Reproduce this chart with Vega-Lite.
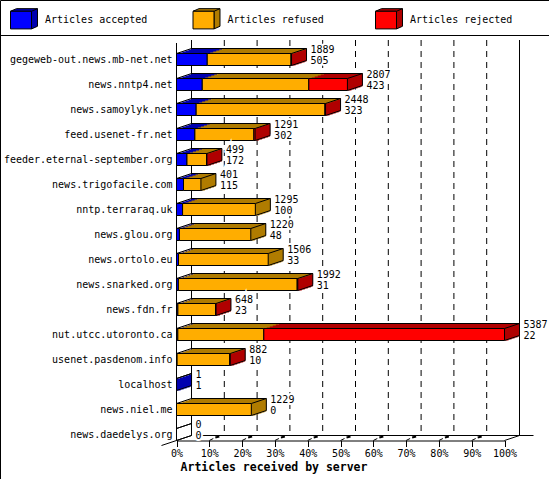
{
  "$schema": "https://vega.github.io/schema/vega-lite/v6.json",
  "width": 549,
  "height": 479,
  "padding": 0,
  "autosize": "none",
  "background": "white",
  "view": {"stroke": "black", "strokeWidth": 1, "fill": "white"},
  "config": {
    "font": "DejaVu Sans Mono",
    "text": {"font": "DejaVu Sans Mono", "fontSize": 10, "color": "black"}
  },
  "datasets": {
    "segments": [
      {"server": "gegeweb-out.news.mb-net.net", "series": "Articles accepted", "rank": 1, "value": 505},
      {"server": "gegeweb-out.news.mb-net.net", "series": "Articles refused", "rank": 2, "value": 1376},
      {"server": "gegeweb-out.news.mb-net.net", "series": "Articles rejected", "rank": 3, "value": 8},
      {"server": "news.nntp4.net", "series": "Articles accepted", "rank": 1, "value": 423},
      {"server": "news.nntp4.net", "series": "Articles refused", "rank": 2, "value": 1750},
      {"server": "news.nntp4.net", "series": "Articles rejected", "rank": 3, "value": 634},
      {"server": "news.samoylyk.net", "series": "Articles accepted", "rank": 1, "value": 323},
      {"server": "news.samoylyk.net", "series": "Articles refused", "rank": 2, "value": 2115},
      {"server": "news.samoylyk.net", "series": "Articles rejected", "rank": 3, "value": 10},
      {"server": "feed.usenet-fr.net", "series": "Articles accepted", "rank": 1, "value": 302},
      {"server": "feed.usenet-fr.net", "series": "Articles refused", "rank": 2, "value": 969},
      {"server": "feed.usenet-fr.net", "series": "Articles rejected", "rank": 3, "value": 20},
      {"server": "feeder.eternal-september.org", "series": "Articles accepted", "rank": 1, "value": 172},
      {"server": "feeder.eternal-september.org", "series": "Articles refused", "rank": 2, "value": 321},
      {"server": "feeder.eternal-september.org", "series": "Articles rejected", "rank": 3, "value": 6},
      {"server": "news.trigofacile.com", "series": "Articles accepted", "rank": 1, "value": 115},
      {"server": "news.trigofacile.com", "series": "Articles refused", "rank": 2, "value": 286},
      {"server": "nntp.terraraq.uk", "series": "Articles accepted", "rank": 1, "value": 100},
      {"server": "nntp.terraraq.uk", "series": "Articles refused", "rank": 2, "value": 1195},
      {"server": "news.glou.org", "series": "Articles accepted", "rank": 1, "value": 48},
      {"server": "news.glou.org", "series": "Articles refused", "rank": 2, "value": 1172},
      {"server": "news.ortolo.eu", "series": "Articles accepted", "rank": 1, "value": 33},
      {"server": "news.ortolo.eu", "series": "Articles refused", "rank": 2, "value": 1473},
      {"server": "news.snarked.org", "series": "Articles accepted", "rank": 1, "value": 31},
      {"server": "news.snarked.org", "series": "Articles refused", "rank": 2, "value": 1951},
      {"server": "news.snarked.org", "series": "Articles rejected", "rank": 3, "value": 10},
      {"server": "news.fdn.fr", "series": "Articles accepted", "rank": 1, "value": 23},
      {"server": "news.fdn.fr", "series": "Articles refused", "rank": 2, "value": 619},
      {"server": "news.fdn.fr", "series": "Articles rejected", "rank": 3, "value": 6},
      {"server": "nut.utcc.utoronto.ca", "series": "Articles accepted", "rank": 1, "value": 22},
      {"server": "nut.utcc.utoronto.ca", "series": "Articles refused", "rank": 2, "value": 1412},
      {"server": "nut.utcc.utoronto.ca", "series": "Articles rejected", "rank": 3, "value": 3953},
      {"server": "usenet.pasdenom.info", "series": "Articles accepted", "rank": 1, "value": 10},
      {"server": "usenet.pasdenom.info", "series": "Articles refused", "rank": 2, "value": 864},
      {"server": "usenet.pasdenom.info", "series": "Articles rejected", "rank": 3, "value": 8},
      {"server": "localhost", "series": "Articles accepted", "rank": 1, "value": 1},
      {"server": "news.niel.me", "series": "Articles refused", "rank": 2, "value": 1229}
    ],
    "servers": [
      {"server": "gegeweb-out.news.mb-net.net", "start": 0, "total": 1889, "accepted": 505, "last": "Articles rejected"},
      {"server": "news.nntp4.net", "start": 0, "total": 2807, "accepted": 423, "last": "Articles rejected"},
      {"server": "news.samoylyk.net", "start": 0, "total": 2448, "accepted": 323, "last": "Articles rejected"},
      {"server": "feed.usenet-fr.net", "start": 0, "total": 1291, "accepted": 302, "last": "Articles rejected"},
      {"server": "feeder.eternal-september.org", "start": 0, "total": 499, "accepted": 172, "last": "Articles rejected"},
      {"server": "news.trigofacile.com", "start": 0, "total": 401, "accepted": 115, "last": "Articles refused"},
      {"server": "nntp.terraraq.uk", "start": 0, "total": 1295, "accepted": 100, "last": "Articles refused"},
      {"server": "news.glou.org", "start": 0, "total": 1220, "accepted": 48, "last": "Articles refused"},
      {"server": "news.ortolo.eu", "start": 0, "total": 1506, "accepted": 33, "last": "Articles refused"},
      {"server": "news.snarked.org", "start": 0, "total": 1992, "accepted": 31, "last": "Articles rejected"},
      {"server": "news.fdn.fr", "start": 0, "total": 648, "accepted": 23, "last": "Articles rejected"},
      {"server": "nut.utcc.utoronto.ca", "start": 0, "total": 5387, "accepted": 22, "last": "Articles rejected"},
      {"server": "usenet.pasdenom.info", "start": 0, "total": 882, "accepted": 10, "last": "Articles rejected"},
      {"server": "localhost", "start": 0, "total": 1, "accepted": 1, "last": "Articles accepted"},
      {"server": "news.niel.me", "start": 0, "total": 1229, "accepted": 0, "last": "Articles refused"},
      {"server": "news.daedelys.org", "start": 0, "total": 0, "accepted": 0, "last": "none"}
    ],
    "ticks": [
      {"count": 538.7, "first": "gegeweb-out.news.mb-net.net", "lastRow": "news.daedelys.org"},
      {"count": 1077.4, "first": "gegeweb-out.news.mb-net.net", "lastRow": "news.daedelys.org"},
      {"count": 1616.1, "first": "gegeweb-out.news.mb-net.net", "lastRow": "news.daedelys.org"},
      {"count": 2154.8, "first": "gegeweb-out.news.mb-net.net", "lastRow": "news.daedelys.org"},
      {"count": 2693.5, "first": "gegeweb-out.news.mb-net.net", "lastRow": "news.daedelys.org"},
      {"count": 3232.2, "first": "gegeweb-out.news.mb-net.net", "lastRow": "news.daedelys.org"},
      {"count": 3770.9, "first": "gegeweb-out.news.mb-net.net", "lastRow": "news.daedelys.org"},
      {"count": 4309.6, "first": "gegeweb-out.news.mb-net.net", "lastRow": "news.daedelys.org"},
      {"count": 4848.3, "first": "gegeweb-out.news.mb-net.net", "lastRow": "news.daedelys.org"}
    ],
    "walls": [
      {"count": 0, "end": 5387, "first": "gegeweb-out.news.mb-net.net", "lastRow": "news.daedelys.org"},
      {"count": 5387, "end": 5387, "first": "gegeweb-out.news.mb-net.net", "lastRow": "news.daedelys.org"}
    ]
  },
  "encoding": {
    "y": {
      "field": "server",
      "type": "nominal",
      "scale": {
        "domain": ["gegeweb-out.news.mb-net.net", "news.nntp4.net", "news.samoylyk.net", "feed.usenet-fr.net", "feeder.eternal-september.org", "news.trigofacile.com", "nntp.terraraq.uk", "news.glou.org", "news.ortolo.eu", "news.snarked.org", "news.fdn.fr", "nut.utcc.utoronto.ca", "usenet.pasdenom.info", "localhost", "news.niel.me", "news.daedelys.org"],
        "range": [47, 447],
        "paddingInner": 0.52,
        "paddingOuter": 0.26
      },
      "axis": {
        "orient": "left",
        "offset": -172,
        "domain": false,
        "ticks": false,
        "grid": false,
        "title": null,
        "labelPadding": 0,
        "labelFont": "DejaVu Sans Mono",
        "labelFontSize": 10,
        "labelColor": "black",
        "labelLimit": 200,
        "labelOverlap": false
      }
    }
  },
  "layer": [
    {
      "data": {"name": "ticks"},
      "mark": {"type": "rule", "color": "black", "strokeWidth": 1, "strokeDash": [6, 5], "xOffset": 15, "x2Offset": 15, "yOffset": -19.5, "y2Offset": 1},
      "encoding": {
        "x": {
          "field": "count",
          "type": "quantitative",
          "scale": {"domain": [0, 5387], "range": [176.5, 504.5], "nice": false, "zero": false},
          "axis": {
            "orient": "bottom",
            "offset": -38.5,
            "values": [0, 538.7, 1077.4, 1616.1, 2154.8, 2693.5, 3232.2, 3770.9, 4309.6, 4848.3, 5387],
            "labelExpr": "round(datum.value / 5387 * 100) + '%'",
            "grid": false,
            "domainColor": "black",
            "tickColor": "black",
            "tickSize": 6,
            "labelColor": "black",
            "labelFont": "DejaVu Sans Mono",
            "labelFontSize": 10,
            "labelPadding": 2,
            "labelFlush": false,
            "labelOverlap": false,
            "title": "Articles received by server",
            "titleFont": "DejaVu Sans Mono",
            "titleFontSize": 11.5,
            "titleFontWeight": "bold",
            "titleColor": "black",
            "titleX": 273.5,
            "titleY": 21,
            "titleAlign": "center"
          }
        },
        "x2": {"field": "count"},
        "y": {"field": "first", "type": "nominal", "axis": {"title": null}},
        "y2": {"field": "lastRow"}
      }
    },
    {
      "data": {"name": "walls"},
      "mark": {"type": "rule", "color": "black", "strokeWidth": 1, "xOffset": 15, "x2Offset": 15, "yOffset": -19.5, "y2Offset": 1},
      "encoding": {
        "x": {"field": "count", "type": "quantitative"},
        "x2": {"field": "count"},
        "y": {"field": "first", "type": "nominal", "axis": {"title": null}},
        "y2": {"field": "lastRow"}
      }
    },
    {
      "data": {"name": "walls"},
      "transform": [{"filter": "datum.count == 0"}],
      "mark": {"type": "rule", "color": "black", "strokeWidth": 1, "yOffset": -16.5, "y2Offset": 6},
      "encoding": {
        "x": {"field": "count", "type": "quantitative"},
        "x2": {"field": "count"},
        "y": {"field": "first", "type": "nominal", "axis": {"title": null}},
        "y2": {"field": "lastRow"}
      }
    },
    {
      "data": {"name": "walls"},
      "transform": [{"filter": "datum.count == 0"}],
      "mark": {"type": "rule", "color": "black", "strokeWidth": 1, "yOffset": -24},
      "encoding": {
        "y": {"field": "first", "type": "nominal", "axis": {"title": null}}
      }
    },
    {
      "data": {"name": "walls"},
      "transform": [{"filter": "datum.count == 0"}],
      "mark": {"type": "rule", "color": "black", "strokeWidth": 1, "xOffset": 25, "x2Offset": 29, "yOffset": 1},
      "encoding": {
        "x": {"field": "count", "type": "quantitative"},
        "x2": {"field": "end"},
        "y": {"field": "lastRow", "type": "nominal", "axis": {"title": null}}
      }
    },
    {
      "data": {"name": "walls"},
      "mark": {"type": "rule", "color": "black", "strokeWidth": 1, "xOffset": 0, "x2Offset": 15, "yOffset": 6, "y2Offset": 1},
      "encoding": {
        "x": {"field": "count", "type": "quantitative"},
        "x2": {"field": "count"},
        "y": {"field": "lastRow", "type": "nominal", "axis": {"title": null}},
        "y2": {"field": "lastRow"}
      }
    },
    {
      "data": {"name": "walls"},
      "transform": [{"filter": "datum.count == 0"}],
      "mark": {"type": "rule", "color": "black", "strokeWidth": 1, "xOffset": -15, "x2Offset": 0, "yOffset": 11, "y2Offset": 6},
      "encoding": {
        "x": {"field": "count", "type": "quantitative"},
        "x2": {"field": "count"},
        "y": {"field": "lastRow", "type": "nominal", "axis": {"title": null}},
        "y2": {"field": "lastRow"}
      }
    },
    {
      "data": {"name": "ticks"},
      "mark": {"type": "rule", "color": "black", "strokeWidth": 1, "xOffset": 0, "x2Offset": 4, "yOffset": 6, "y2Offset": 4},
      "encoding": {
        "x": {"field": "count", "type": "quantitative"},
        "x2": {"field": "count"},
        "y": {"field": "lastRow", "type": "nominal", "axis": {"title": null}},
        "y2": {"field": "lastRow"}
      }
    },
    {
      "data": {"name": "ticks"},
      "mark": {"type": "rule", "color": "black", "strokeWidth": 2, "xOffset": 6, "x2Offset": 10, "yOffset": 3, "y2Offset": 2},
      "encoding": {
        "x": {"field": "count", "type": "quantitative"},
        "x2": {"field": "count"},
        "y": {"field": "lastRow", "type": "nominal", "axis": {"title": null}},
        "y2": {"field": "lastRow"}
      }
    },
    {
      "data": {"name": "segments"},
      "mark": {"type": "bar", "xOffset": 15, "x2Offset": 15, "yOffset": -5, "y2Offset": -5},
      "encoding": {
        "x": {"field": "value", "type": "quantitative", "stack": true},
        "order": {"field": "rank"},
        "color": {
          "field": "series",
          "type": "nominal",
          "scale": {"domain": ["Articles accepted", "Articles refused", "Articles rejected", "none"], "range": ["#0000b0", "#b07c00", "#b00000", "#ffffff"]},
          "legend": {
            "orient": "none",
            "legendX": 10,
            "legendY": 9,
            "columns": 3,
            "gridAlign": "all",
            "columnPadding": 42.5,
            "title": null,
            "values": ["Articles accepted", "Articles refused", "Articles rejected"],
            "symbolType": "M-1,-0.84 L-0.43,-1.09 L1.57,-1.09 L1.57,0.59 L1,0.84 L1,-0.84 Z M1,-0.84 L1.57,-1.09",
            "symbolSize": 441,
            "symbolStrokeColor": "black",
            "symbolStrokeWidth": 1,
            "symbolOpacity": 1,
            "labelFont": "DejaVu Sans Mono",
            "labelFontSize": 10,
            "labelOffset": 13,
            "labelOpacity": 0
          }
        }
      }
    },
    {
      "data": {"name": "segments"},
      "mark": {"type": "bar", "xOffset": 12, "x2Offset": 12, "yOffset": -4, "y2Offset": -4},
      "encoding": {
        "x": {"field": "value", "type": "quantitative", "stack": true},
        "order": {"field": "rank"},
        "color": {"field": "series", "type": "nominal"}
      }
    },
    {
      "data": {"name": "segments"},
      "mark": {"type": "bar", "xOffset": 9, "x2Offset": 9, "yOffset": -3, "y2Offset": -3},
      "encoding": {
        "x": {"field": "value", "type": "quantitative", "stack": true},
        "order": {"field": "rank"},
        "color": {"field": "series", "type": "nominal"}
      }
    },
    {
      "data": {"name": "segments"},
      "mark": {"type": "bar", "xOffset": 6, "x2Offset": 6, "yOffset": -2, "y2Offset": -2},
      "encoding": {
        "x": {"field": "value", "type": "quantitative", "stack": true},
        "order": {"field": "rank"},
        "color": {"field": "series", "type": "nominal"}
      }
    },
    {
      "data": {"name": "segments"},
      "mark": {"type": "bar", "xOffset": 3, "x2Offset": 3, "yOffset": -1, "y2Offset": -1},
      "encoding": {
        "x": {"field": "value", "type": "quantitative", "stack": true},
        "order": {"field": "rank"},
        "color": {"field": "series", "type": "nominal"}
      }
    },
    {
      "data": {"name": "servers"},
      "transform": [{"filter": "datum.total > 0"}],
      "mark": {"type": "bar", "xOffset": 0, "x2Offset": 4, "yOffset": 0, "y2Offset": 0},
      "encoding": {
        "x": {"field": "total", "type": "quantitative"},
        "x2": {"field": "total"},
        "color": {"field": "last", "type": "nominal"}
      }
    },
    {
      "data": {"name": "servers"},
      "transform": [{"filter": "datum.total > 0"}],
      "mark": {"type": "bar", "xOffset": 3, "x2Offset": 7, "yOffset": -1, "y2Offset": -1},
      "encoding": {
        "x": {"field": "total", "type": "quantitative"},
        "x2": {"field": "total"},
        "color": {"field": "last", "type": "nominal"}
      }
    },
    {
      "data": {"name": "servers"},
      "transform": [{"filter": "datum.total > 0"}],
      "mark": {"type": "bar", "xOffset": 6, "x2Offset": 10, "yOffset": -2, "y2Offset": -2},
      "encoding": {
        "x": {"field": "total", "type": "quantitative"},
        "x2": {"field": "total"},
        "color": {"field": "last", "type": "nominal"}
      }
    },
    {
      "data": {"name": "servers"},
      "transform": [{"filter": "datum.total > 0"}],
      "mark": {"type": "bar", "xOffset": 9, "x2Offset": 13, "yOffset": -3, "y2Offset": -3},
      "encoding": {
        "x": {"field": "total", "type": "quantitative"},
        "x2": {"field": "total"},
        "color": {"field": "last", "type": "nominal"}
      }
    },
    {
      "data": {"name": "servers"},
      "transform": [{"filter": "datum.total > 0"}],
      "mark": {"type": "bar", "xOffset": 12, "x2Offset": 15, "yOffset": -4, "y2Offset": -4},
      "encoding": {
        "x": {"field": "total", "type": "quantitative"},
        "x2": {"field": "total"},
        "color": {"field": "last", "type": "nominal"}
      }
    },
    {
      "data": {"name": "servers"},
      "mark": {"type": "rule", "color": "black", "strokeWidth": 1, "xOffset": 15, "x2Offset": 15, "yOffset": -11},
      "encoding": {
        "x": {"field": "start", "type": "quantitative"},
        "x2": {"field": "total"}
      }
    },
    {
      "data": {"name": "servers"},
      "mark": {"type": "rule", "color": "black", "strokeWidth": 1, "xOffset": 0, "x2Offset": 15, "yOffset": -6, "y2Offset": -11},
      "encoding": {
        "x": {"field": "start", "type": "quantitative"},
        "x2": {"field": "start"},
        "y2": {"field": "server"}
      }
    },
    {
      "data": {"name": "servers"},
      "mark": {"type": "rule", "color": "black", "strokeWidth": 1, "xOffset": 0, "x2Offset": 15, "yOffset": -6, "y2Offset": -11},
      "encoding": {
        "x": {"field": "total", "type": "quantitative"},
        "x2": {"field": "total"},
        "y2": {"field": "server"}
      }
    },
    {
      "data": {"name": "servers"},
      "mark": {"type": "rule", "color": "black", "strokeWidth": 1, "xOffset": 0, "x2Offset": 15, "yOffset": 6, "y2Offset": 1},
      "encoding": {
        "x": {"field": "total", "type": "quantitative"},
        "x2": {"field": "total"},
        "y2": {"field": "server"}
      }
    },
    {
      "data": {"name": "servers"},
      "mark": {"type": "rule", "color": "black", "strokeWidth": 1, "xOffset": 15, "x2Offset": 15, "yOffset": -11, "y2Offset": 1},
      "encoding": {
        "x": {"field": "total", "type": "quantitative"},
        "x2": {"field": "total"},
        "y2": {"field": "server"}
      }
    },
    {
      "data": {"name": "segments"},
      "mark": {"type": "bar", "stroke": "black", "strokeWidth": 1},
      "encoding": {
        "x": {"field": "value", "type": "quantitative", "stack": true},
        "order": {"field": "rank"},
        "fill": {
          "field": "series",
          "type": "nominal",
          "scale": {"domain": ["Articles accepted", "Articles refused", "Articles rejected"], "range": ["#0000ff", "#ffad00", "#ff0000"]},
          "legend": {
            "orient": "none",
            "legendX": 10,
            "legendY": 9,
            "columns": 3,
            "gridAlign": "all",
            "columnPadding": 42.5,
            "title": null,
            "symbolType": "M-1,-0.84 L1,-0.84 L1,0.84 L-1,0.84 Z",
            "symbolSize": 441,
            "symbolStrokeColor": "black",
            "symbolStrokeWidth": 1,
            "symbolOpacity": 1,
            "labelFont": "DejaVu Sans Mono",
            "labelFontSize": 10,
            "labelColor": "black",
            "labelOffset": 13
          }
        }
      }
    },
    {
      "data": {"name": "servers"},
      "mark": {"type": "text", "align": "left", "baseline": "middle", "xOffset": 19, "yOffset": -9.5, "stroke": "white", "strokeWidth": 4},
      "encoding": {
        "x": {"field": "total", "type": "quantitative"},
        "text": {"field": "total", "type": "nominal"}
      }
    },
    {
      "data": {"name": "servers"},
      "mark": {"type": "text", "align": "left", "baseline": "middle", "xOffset": 19, "yOffset": 1.5, "stroke": "white", "strokeWidth": 4},
      "encoding": {
        "x": {"field": "total", "type": "quantitative"},
        "text": {"field": "accepted", "type": "nominal"}
      }
    },
    {
      "data": {"name": "servers"},
      "mark": {"type": "text", "align": "left", "baseline": "middle", "xOffset": 19, "yOffset": -9.5},
      "encoding": {
        "x": {"field": "total", "type": "quantitative"},
        "text": {"field": "total", "type": "nominal"}
      }
    },
    {
      "data": {"name": "servers"},
      "mark": {"type": "text", "align": "left", "baseline": "middle", "xOffset": 19, "yOffset": 1.5},
      "encoding": {
        "x": {"field": "total", "type": "quantitative"},
        "text": {"field": "accepted", "type": "nominal"}
      }
    }
  ]
}
